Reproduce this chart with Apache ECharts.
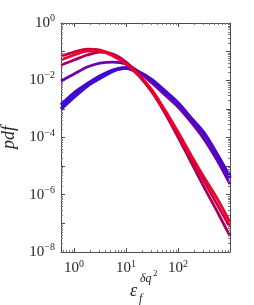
<!DOCTYPE html>
<html><head><meta charset="utf-8">
<script src="https://cdn.jsdelivr.net/npm/echarts@6/dist/echarts.min.js"></script>
<style>html,body{margin:0;padding:0;background:#fff}#c{width:254px;height:305px}</style>
</head><body><div id="c"></div>
<script>
// x positions (epsilon_f^{dq^2}), half-decade steps
const xValues = [0.56, 1, 1.78, 3.16, 5.6, 10, 17.8, 31.6, 56, 100, 178, 316, 562, 1000];
// pdf curves, blue -> red
const blueB  = [9.84e-4, 2.59e-3, 6.27e-3, 1.19e-2, 2.10e-2, 2.67e-2, 1.79e-2, 9.38e-3, 3.87e-3, 1.47e-3, 4.40e-4, 1.32e-4, 2.43e-5, 3.80e-6];
const blueA  = [1.36e-3, 3.57e-3, 7.37e-3, 1.40e-2, 2.27e-2, 2.67e-2, 1.94e-2, 1.02e-2, 4.19e-3, 1.60e-3, 4.77e-4, 1.43e-4, 2.63e-5, 4.12e-6];
const purple = [9.38e-3, 1.65e-2, 2.89e-2, 3.99e-2, 4.33e-2, 3.68e-2, 1.94e-2, 7.98e-3, 3.04e-3, 1.16e-3, 3.45e-4, 8.79e-5, 1.62e-5, 2.35e-6];
const redC   = [3.40e-2, 5.08e-2, 7.60e-2, 9.68e-2, 8.24e-2, 4.33e-2, 1.52e-2, 3.87e-3, 7.13e-4, 1.03e-4, 1.38e-5, 1.85e-6, 2.67e-7, 3.57e-8];
const redB   = [7.02e-2, 9.68e-2, 1.23e-1, 1.14e-1, 7.60e-2, 3.68e-2, 1.40e-2, 3.87e-3, 7.73e-4, 1.21e-4, 1.91e-5, 2.99e-6, 4.69e-7, 7.36e-8];
const redA   = [5.08e-2, 7.60e-2, 1.05e-1, 1.05e-1, 7.02e-2, 3.68e-2, 1.52e-2, 4.54e-3, 9.08e-4, 1.55e-4, 2.43e-5, 4.12e-6, 7.61e-7, 1.10e-7];
const curves = [blueB, blueA, purple, redC, redB, redA];
const curveColors = ['#3a0fd6', '#4508d0', '#6c00aa', '#a8005e', '#cc0040', '#ee0028'];

const xRange = [0.56, 1000];
const yRange = [1e-8, 1];
const xLabelExps = [0, 1, 2];
const yLabelExps = [0, -2, -4, -6, -8];
const xMinorTicks = [0.6, 0.7, 0.8, 0.9, 2, 3, 4, 5, 6, 7, 8, 9, 20, 30, 40, 50, 60, 70, 80, 90, 200, 300, 400, 500, 600, 700, 800, 900];
const minorMultipliers = [2, 3, 4, 5, 6, 7, 8, 9];
const yDecades = [1e-8, 1e-7, 1e-6, 1e-5, 1e-4, 1e-3, 1e-2, 1e-1];

const FONT = 'Liberation Serif';
const sup = n => String(n).replace('-', '\u2212');
const rich = {
  b: {fontFamily: FONT, fontSize: 15, color: '#262626'},
  s: {fontFamily: FONT, fontSize: 10, color: '#262626', padding: [0, 0, 9, 0]}
};
function powLabel(v, allowed) {
  const e = Math.log10(v), r = Math.round(e);
  if (Math.abs(e - r) > 1e-6 || allowed.indexOf(r) < 0) return '';
  return '{b|10}{s|' + sup(r) + '}';
}
const lineCol = '#4d4d4d';
const common = {
  axisLine: {show: true, onZero: false, lineStyle: {color: lineCol, width: 1}},
  axisTick: {show: true, inside: true, length: 4, lineStyle: {color: lineCol, width: 1}},
  splitLine: {show: false}
};
const xAxisBase = Object.assign({type: 'log', logBase: 10, min: xRange[0], max: xRange[1], splitNumber: 3}, common);
const yAxisBase = Object.assign({type: 'log', logBase: 10, min: yRange[0], max: yRange[1], splitNumber: 8}, common);

const tickData = []
  .concat(xMinorTicks.map(v => [v, 1e-4, 1]))
  .concat([].concat(...yDecades.map(d => minorMultipliers.map(m => [1, m * d, 2]))));

function tickRender(params, api) {
  const cs = params.coordSys;
  const kind = api.value(2);
  const len = 2;
  const style = {stroke: '#7a7a7a', lineWidth: 1};
  if (kind === 1) {
    const px = Math.round(api.coord([api.value(0), 1e-4])[0]) + 0.5;
    const b = cs.y + cs.height, t = cs.y;
    return {type: 'group', children: [
      {type: 'line', shape: {x1: px, y1: b, x2: px, y2: b - len}, style: style},
      {type: 'line', shape: {x1: px, y1: t, x2: px, y2: t + len}, style: style}
    ]};
  }
  const py = Math.round(api.coord([1, api.value(1)])[1]) + 0.5;
  const l = cs.x, r = cs.x + cs.width;
  return {type: 'group', children: [
    {type: 'line', shape: {x1: l, y1: py, x2: l + len, y2: py}, style: style},
    {type: 'line', shape: {x1: r, y1: py, x2: r - len, y2: py}, style: style}
  ]};
}

const chart = echarts.init(document.getElementById('c'), null, {renderer: 'canvas'});
chart.setOption({
  animation: false,
  backgroundColor: '#fff',
  grid: {left: 61, right: 24, top: 23, bottom: 53, containLabel: false, outerBoundsMode: 'none'},
  xAxis: [
    Object.assign({position: 'bottom', axisLabel: {formatter: v => powLabel(v, xLabelExps), rich: rich, margin: 7}}, xAxisBase),
    Object.assign({position: 'top', axisLabel: {show: false}}, xAxisBase)
  ],
  yAxis: [
    Object.assign({position: 'left', axisLabel: {formatter: v => powLabel(v, yLabelExps), rich: rich, margin: 6},
      name: 'pdf', nameLocation: 'middle', nameRotate: 90, nameGap: 43,
      nameTextStyle: {fontFamily: FONT, fontStyle: 'italic', fontSize: 18, color: '#262626'}}, yAxisBase),
    Object.assign({position: 'right', axisLabel: {show: false}}, yAxisBase)
  ],
  series: curves.map((c, i) => ({
    type: 'line', smooth: 0.3, showSymbol: false, symbol: 'none',
    xAxisIndex: 0, yAxisIndex: 0,
    lineStyle: {color: curveColors[i], width: i < 2 ? 3.5 : 2.8},
    data: xValues.map((x, j) => [x, c[j]])
  })).concat([{
    type: 'custom', xAxisIndex: 0, yAxisIndex: 0, silent: true, clip: false,
    renderItem: tickRender, encode: {x: 0, y: 1}, data: tickData, z: 5
  }]),
  graphic: [
    {type: 'text', left: 130, top: 282, style: {text: '\u03b5', fontFamily: FONT, fontStyle: 'italic', fontSize: 18, fill: '#262626'}},
    {type: 'text', left: 139, top: 293, style: {text: 'f', fontFamily: FONT, fontStyle: 'italic', fontSize: 12, fill: '#262626'}},
    {type: 'text', left: 140, top: 273, style: {text: '\u03b4q', fontFamily: FONT, fontStyle: 'italic', fontSize: 12, fill: '#262626'}},
    {type: 'text', left: 153, top: 269, style: {text: '2', fontFamily: FONT, fontSize: 9, fill: '#262626'}}
  ]
});
</script>
</body></html>
